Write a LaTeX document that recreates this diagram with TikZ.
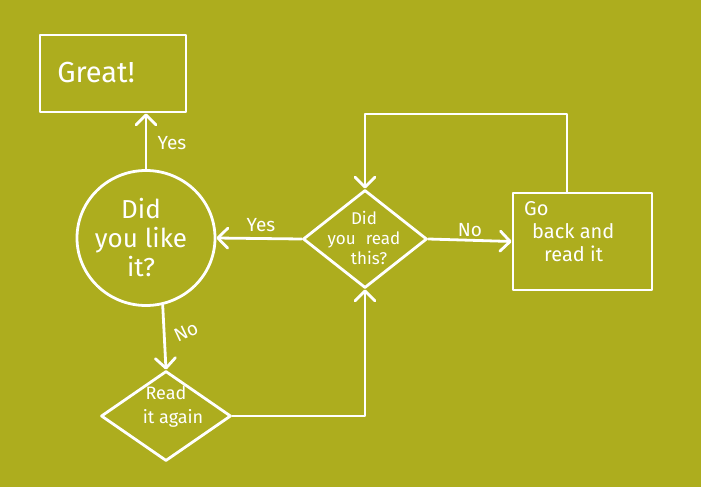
\documentclass[tikz,border=0pt]{standalone}
\usepackage{fontspec}
\setmainfont{Fira Sans}
\usetikzlibrary{arrows.meta,shapes.geometric}
\definecolor{bg}{RGB}{173,173,30}
\begin{document}
\begin{tikzpicture}[x=1pt,y=-1pt,
  line/.style={draw=white,line width=2.8pt,line cap=round,line join=round},
  arr/.style={line,-{Straight Barb[length=10pt,width=20pt,round]}},
  box/.style={line,rectangle,inner sep=0pt},
  diam/.style={line,diamond,inner sep=0pt},
  circ/.style={line,ellipse,inner sep=0pt},
  txt/.style={text=white,inner sep=0pt},
  lbl/.style={text=white,inner sep=0pt,font=\fontsize{19}{22}\selectfont}]
\fill[bg] (0,0) rectangle (701,487);
\useasboundingbox (0,0) rectangle (701,487);
% shapes
\node[box,minimum width=146pt,minimum height=77pt] (great) at (113,73.5) {};
\node[circ,minimum width=138pt,minimum height=135pt] (like) at (146,238) {};
\node[diam,minimum width=124pt,minimum height=98pt] (read) at (365,239) {};
\node[box,minimum width=139pt,minimum height=97pt] (goback) at (582.5,241.5) {};
\node[diam,minimum width=130pt,minimum height=90pt] (again) at (166,416) {};
% texts
\node[txt,font=\fontsize{29}{30}\selectfont] (tgreat) at (96,73) {Great!};
\node[txt,align=center,font=\fontsize{26}{29}\selectfont] (tlike) at (141,238) {Did\\you like\\it?};
\node[txt,align=center,font=\fontsize{17}{20}\selectfont] (tread) at (364,238) {Did\\you\hspace{10pt}read\\\hspace{10pt}this?};
\node[txt,align=left,anchor=north west,font=\fontsize{20}{23}\selectfont] (tgoback) at (524,201) {Go\\\hspace{8pt}back and\\\hspace{20pt}read it};
\node[txt,align=center,font=\fontsize{18}{24}\selectfont] (tagain) at (166,407) {Read\\\hspace{14pt}it again};
% connectors
\coordinate (lr) at (567,114);
\draw[arr] (like.north) -- (like.north |- great.south);
\draw[arr] (read.west) -- (like.east);
\draw[arr] (read.east) -- (goback.west);
\draw[arr] (goback.north -| lr) -- (lr) -- (lr -| read.north) -- (read.north);
\draw[arr] (like.-76) -- (again.north);
\draw[arr] (again.east) -| (read.south);
% labels
\node[lbl] (yes1) at (172,143) {Yes};
\node[lbl] (yes2) at (261,225) {Yes};
\node[lbl] (no1) at (470,230) {No};
\node[lbl,rotate=25] (no2) at (186,332) {No};
\end{tikzpicture}
\end{document}
